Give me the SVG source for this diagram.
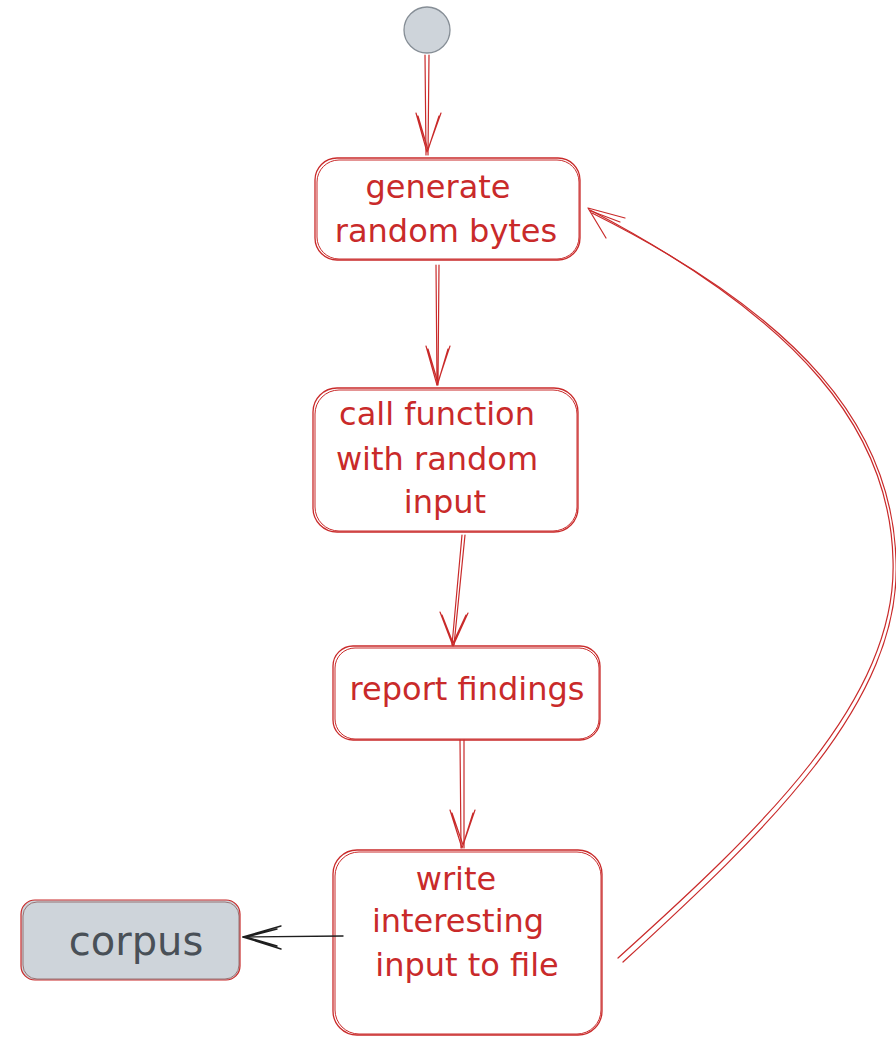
<svg xmlns="http://www.w3.org/2000/svg" width="896" height="1037" viewBox="0 0 896 1037">
<style>
.box{fill:#ffffff;stroke:#c92a2a;stroke-width:1.3}
.box2{fill:none;stroke:#c92a2a;stroke-width:1}
.lbl{font-family:"DejaVu Sans",sans-serif;font-size:32px;fill:#c92a2a;text-anchor:middle}
.ln{fill:none;stroke:#c92a2a;stroke-width:1.2;stroke-linecap:round;stroke-linejoin:round}
.blk{fill:none;stroke:#1e1e1e;stroke-width:1.4;stroke-linecap:round;stroke-linejoin:round}
</style>
<rect width="896" height="1037" fill="#ffffff"/>
<g id="start">
<circle cx="427" cy="30" r="23" fill="#ced4da" stroke="#868e96" stroke-width="1.3"/>
</g>
<g id="n1">
<rect class="box" x="315" y="158" width="265" height="102" rx="22"/>
<rect class="box2" x="317" y="160" width="262" height="99" rx="22"/>
<text class="lbl" x="438" y="198">generate</text>
<text class="lbl" x="446" y="242">random bytes</text>
</g>
<g id="n2">
<rect class="box" x="313" y="388" width="265" height="144" rx="24"/>
<rect class="box2" x="315" y="390" width="262" height="141" rx="24"/>
<text class="lbl" x="437" y="425">call function</text>
<text class="lbl" x="437" y="470">with random</text>
<text class="lbl" x="445" y="513">input</text>
</g>
<g id="n3">
<rect class="box" x="333" y="646" width="267" height="94" rx="20"/>
<rect class="box2" x="335" y="648" width="264" height="91" rx="20"/>
<text class="lbl" x="467" y="700">report findings</text>
</g>
<g id="n4">
<rect class="box" x="333" y="850" width="269" height="185" rx="24"/>
<rect class="box2" x="335" y="852" width="266" height="182" rx="24"/>
<text class="lbl" x="456" y="890">write</text>
<text class="lbl" x="458" y="932">interesting</text>
<text class="lbl" x="467" y="976">input to file</text>
</g>
<g id="corpus">
<rect x="21" y="900" width="219" height="80" rx="14" fill="#ced4da" stroke="#c92a2a" stroke-width="1.2"/>
<rect x="23" y="902" width="216" height="77" rx="14" fill="none" stroke="#8a5a5a" stroke-width="0.8"/>
<text x="136" y="955" font-family="DejaVu Sans, sans-serif" font-size="40" fill="#495057" text-anchor="middle">corpus</text>
</g>
<g id="connectors">
<path class="ln" d="M425 55 L426 155 M429 55 L428 155"/>
<path class="ln" d="M416 113 L427 152 L441 113 M418 116 L428 150 L439 116"/>
<path class="ln" d="M436 265 L437 385 M439 265 L438 385"/>
<path class="ln" d="M426 346 L437 385 L450 346 M428 349 L438 383 L448 349"/>
<path class="ln" d="M462 535 L452 645 M465 535 L454 645"/>
<path class="ln" d="M440 612 L453 646 L468 613 M442 615 L453 643 L466 615"/>
<path class="ln" d="M460 740 L461 848 M464 740 L464 848"/>
<path class="ln" d="M450 810 L462 848 L475 810 M452 813 L463 845 L473 813"/>
<path class="blk" d="M343 936 L243 937"/>
<path class="blk" d="M281 926 L243 937 L281 949 M277 929 L246 937 L277 946"/>
<path class="ln" d="M618 958 C760 830 898 700 893 560 C890 430 800 320 590 210"/>
<path class="ln" d="M623 962 C765 832 902 702 896 560 C892 428 802 318 592 213"/>
<path class="ln" d="M588 208 L625 218 M588 208 L606 238 M591 211 L620 222"/>
</g>
</svg>
